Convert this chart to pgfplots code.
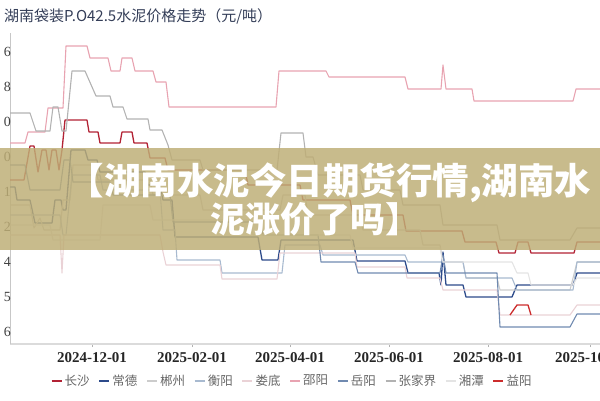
\documentclass[border=0pt]{standalone}
\usepackage{pgfplots}
\pgfplotsset{compat=1.18}
\usepackage{fontspec}
\setmainfont{Liberation Serif}
\newfontfamily\cjk{Noto Sans CJK SC}
\definecolor{cCS}{RGB}{178,34,52}
\definecolor{cCD}{RGB}{44,74,138}
\definecolor{cCZ}{RGB}{204,204,204}
\definecolor{cHY}{RGB}{168,186,208}
\definecolor{cLD}{RGB}{234,210,214}
\definecolor{cSY}{RGB}{232,163,177}
\definecolor{cYY}{RGB}{112,138,176}
\definecolor{cZJJ}{RGB}{178,178,178}
\definecolor{cXT}{RGB}{228,228,228}
\definecolor{cYiY}{RGB}{204,44,44}
\definecolor{banner}{RGB}{190,174,118}
\definecolor{titlecol}{RGB}{52,62,88}
\begin{document}
\begin{tikzpicture}
\useasboundingbox (0,0) rectangle (600pt,400pt);
\begin{axis}[
  at={(10pt,56pt)}, anchor=south west,
  scale only axis, width=590pt, height=311pt,
  xmin=10, xmax=600, ymin=56, ymax=367,
  every axis plot/.append style={y filter/.expression={400-y}, line join=round},
  axis x line*=bottom, axis y line*=left,
  x axis line style={draw=black!14, line width=1.6pt},
  y axis line style={draw=black!22, line width=0.8pt},
  xtick={92,192,290,389,488,590},
  xticklabels={2024-12-01,2025-02-01,2025-04-01,2025-06-01,2025-08-01,2025-10-01},
  xtick align=outside, major tick length=3pt,
  xtick style={draw=black!30, line width=0.6pt},
  xticklabel style={font=\bfseries\fontsize{15}{15}\selectfont, text=black!85, yshift=-2pt},
  ytick={348,313,278,243,208,173,138,103,68},
  yticklabels={6,8,0,0,1,2,4,5,6},
  ytick style={draw=none},
  yticklabel style={font=\fontsize{14}{14}\selectfont, text=black!75, inner sep=0pt, anchor=east, xshift=1pt},
  clip=false,
  legend columns=10,
  legend style={draw=none, fill=none, font=\cjk\fontsize{12.5}{12.5}\selectfont, text=black!60,
    at={(axis description cs:0.478,-0.118)}, anchor=center,
    /tikz/every even column/.append style={column sep=6.5pt}},
  legend image code/.code={\draw[#1, line width=2.2pt] (0pt,0pt) -- (10pt,0pt);},
]
% 长沙
\addplot[cCS, line width=1.3pt] coordinates {(10,180)(24,180)(30,146)(34,146)(38,172)(42,150)(46,150)(49,170)(52,150)(56,150)(59,170)(62,150)(65,120)(87,120)(89,132)(98,132)(100,143)(120,143)(122,132)(132,132)(134,143)(147,143)(150,158)(165,158)(168,170)(245,170)(248,185)(300,185)(303,200)(350,200)(353,215)(403,215)(406,231)(462,231)(465,242)(496,242)(499,253)(515,253)(518,242)(528,242)(531,253)(574,253)(577,242)(600,242)};
% 常德
\addplot[cCD, line width=1.3pt] coordinates {(10,187)(15,187)(17,200)(30,200)(35,223)(52,223)(55,200)(61,200)(63,210)(66,210)(71,150)(85,150)(88,160)(97,160)(100,172)(145,172)(148,185)(160,185)(163,200)(172,200)(175,237)(258,237)(262,260)(278,260)(281,240)(353,240)(357,261)(405,261)(408,273)(439,273)(441,285)(443,252)(446,285)(463,285)(466,297)(512,297)(517,285)(573,285)(577,273)(600,273)};
% 郴州
\addplot[cCZ, line width=1.1pt] coordinates {(10,205)(30,205)(34,228)(40,218)(44,230)(60,230)(63,200)(70,200)(73,165)(95,165)(98,180)(150,180)(153,195)(200,195)(203,210)(280,210)(283,195)(305,195)(308,215)(360,215)(363,230)(420,230)(423,245)(440,245)(443,262)(463,262)(466,278)(497,278)(500,290)(570,290)(577,262)(600,262)};
% 衡阳
\addplot[cHY, line width=1.1pt] coordinates {(10,215)(60,215)(63,235)(66,235)(72,175)(100,175)(103,190)(160,190)(163,230)(175,230)(177,260)(220,260)(222,273)(282,273)(285,245)(320,245)(323,255)(405,255)(408,262)(463,262)(466,278)(512,278)(517,290)(573,290)(577,262)(600,262)};
% 娄底
\addplot[cLD, line width=1.1pt] coordinates {(10,235)(60,235)(62,273)(64,235)(160,235)(163,252)(166,265)(220,265)(222,279)(277,279)(280,253)(355,253)(357,267)(405,267)(407,278)(440,278)(443,290)(497,290)(500,315)(570,315)(577,305)(600,305)};
% 邵阳
\addplot[cSY, line width=1.1pt] coordinates {(10,143)(25,143)(28,132)(45,132)(48,108)(63,108)(66,46)(87,46)(90,58)(108,58)(111,71)(120,71)(122,58)(132,58)(135,71)(153,71)(156,82)(166,82)(169,107)(276,107)(279,71)(326,71)(329,77)(405,77)(408,89)(441,89)(443,65)(446,89)(472,89)(474,101)(573,101)(576,89)(600,89)};
% 岳阳
\addplot[cYY, line width=1.1pt] coordinates {(10,165)(25,165)(30,190)(60,190)(64,160)(70,160)(73,182)(110,182)(113,195)(170,195)(173,222)(260,222)(263,235)(318,235)(321,262)(355,262)(358,273)(440,273)(443,255)(446,273)(497,273)(500,327)(570,327)(577,314)(600,314)};
% 张家界
\addplot[cZJJ, line width=1.1pt] coordinates {(10,113)(30,113)(36,131)(50,131)(53,107)(58,107)(62,131)(66,131)(72,71)(85,71)(96,96)(110,96)(113,107)(123,107)(127,119)(148,119)(150,130)(162,130)(168,145)(172,160)(200,160)(203,170)(277,170)(281,133)(303,133)(306,157)(313,157)(318,175)(360,175)(363,190)(400,190)(403,205)(440,205)(443,225)(497,225)(500,240)(570,240)(577,228)(600,228)};
% 湘潭
\addplot[cXT, line width=1.1pt] coordinates {(10,225)(50,225)(53,240)(100,240)(103,205)(150,205)(153,220)(250,220)(253,235)(350,235)(353,248)(440,248)(443,262)(512,262)(517,273)(528,273)(531,285)(573,285)(577,278)(600,278)};
% 益阳
\addplot[cYiY, line width=1.3pt] coordinates {(510,315)(517,305)(528,305)(531,315)};
\legend{长沙,常德,郴州,衡阳,娄底,邵阳,岳阳,张家界,湘潭,益阳}
\end{axis}
\node[anchor=west, font=\cjk\fontsize{15}{15}\selectfont, text=titlecol, inner sep=0pt] at (4pt,384pt) {湖南袋装P.O42.5水泥价格走势（元/吨）};
\fill[banner, opacity=0.84] (0pt,150pt) rectangle (600pt,252pt);
\node[font=\cjk\bfseries\fontsize{36.5}{36.5}\selectfont, text=white, inner sep=0pt] at (329.5pt,217pt) {【湖南水泥今日期货行情,湖南水};
\node[font=\cjk\bfseries\fontsize{35}{35}\selectfont, text=white, inner sep=0pt] at (315pt,181pt) {泥涨价了吗】};
\end{tikzpicture}
\end{document}
